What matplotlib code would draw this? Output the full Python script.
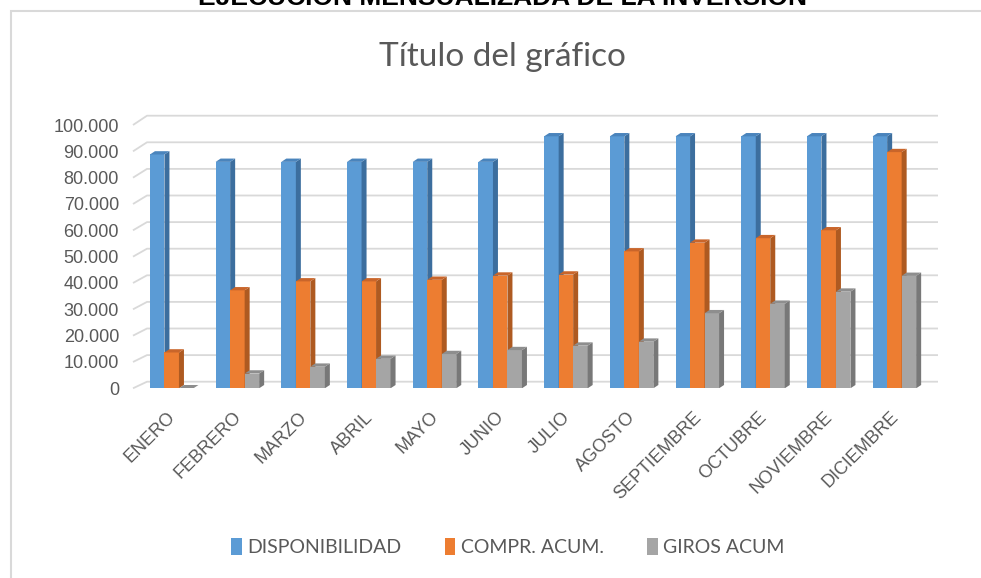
#!/usr/bin/env python3
import numpy as np
import matplotlib
matplotlib.use("Agg")
import matplotlib.pyplot as plt
from matplotlib.patches import Polygon, Patch, Rectangle

# data
meses = ["ENERO", "FEBRERO", "MARZO", "ABRIL", "MAYO", "JUNIO", "JULIO",
         "AGOSTO", "SEPTIEMBRE", "OCTUBRE", "NOVIEMBRE", "DICIEMBRE"]
disponibilidad = [88800, 86000, 86000, 86000, 86000, 86000,
                  95700, 95700, 95700, 95700, 95700, 95700]
compr_acum = [13600, 37200, 40600, 40600, 41200, 42800,
              43200, 52000, 55300, 57000, 60000, 89700]
giros_acum = [0, 5600, 8200, 11200, 13000, 14500,
              16200, 17700, 28500, 32100, 36700, 42700]
series_names = ["DISPONIBILIDAD", "COMPR. ACUM.", "GIROS ACUM"]
y_ticks = list(range(0, 100001, 10000))

front_cols = ["#5B9BD5", "#ED7D31", "#A5A5A5"]
side_cols = ["#3C6E9E", "#AE5A21", "#787878"]
top_cols = ["#4A84BC", "#C9652A", "#8E8E8E"]
grey_txt = "#595959"

W, H = 981, 578
fig = plt.figure(figsize=(W / 100, H / 100), dpi=100)

# axes geometry (pixels)
left_px, right_px = 133, 938
base_px, top_px = 388.3, 115.7
group_px = 65.7
first_center_px = 171.7
y_px_per_unit = 2.633 / 1000

ax = fig.add_axes([left_px / W, (H - base_px) / H,
                   (right_px - left_px) / W, (base_px - top_px) / H])
x0 = -(first_center_px - left_px) / group_px
x1 = x0 + (right_px - left_px) / group_px
ymax = (base_px - top_px) / y_px_per_unit
ax.set_xlim(x0, x1)
ax.set_ylim(0, ymax)
for s in ax.spines.values():
    s.set_visible(False)


def dx(px):
    return px / group_px


def dy(px):
    return px / y_px_per_unit


# back wall gridlines
for v in y_ticks:
    back_py = 381.7 - v * 2.66 / 1000
    yb = (base_px - back_py) / y_px_per_unit
    ax.plot([x0, x0 + dx(14), x1], [v, yb, yb], color="#d9d9d9", lw=1.3,
            clip_on=False, zorder=1, solid_capstyle="butt")

# bars with a bit of depth
bw = dx(14.5)
ddx, ddy = dx(5), dy(3.3)
idx = np.arange(len(meses))
for k, vals in enumerate([disponibilidad, compr_acum, giros_acum]):
    xs = idx + (k - 1) * bw
    ax.bar(xs, vals, width=bw, color=front_cols[k], zorder=3 + k,
           edgecolor="none")
    for xc, v in zip(xs, vals):
        xl, xr = xc - bw / 2, xc + bw / 2
        side = Polygon([(xr, 0), (xr + ddx, ddy), (xr + ddx, v + ddy), (xr, v)],
                       closed=True, facecolor=side_cols[k], edgecolor="none",
                       zorder=3 + k)
        top = Polygon([(xl, v), (xl + ddx, v + ddy), (xr + ddx, v + ddy), (xr, v)],
                      closed=True, facecolor=top_cols[k], edgecolor="none",
                      zorder=3 + k)
        ax.add_patch(side)
        ax.add_patch(top)

ax.set_yticks(y_ticks, [f"{v:,}".replace(",", ".") for v in y_ticks])
ax.tick_params(axis="y", length=0, pad=10, labelsize=13, labelcolor=grey_txt)
for lab in ax.get_yticklabels():
    lab.set_family("Liberation Sans")

ax.set_xticks(idx + 0.02, meses)
ax.tick_params(axis="x", length=0, pad=19, labelsize=13, labelcolor=grey_txt)
for lab in ax.get_xticklabels():
    lab.set_family("Liberation Sans")
    lab.set_rotation(45)
    lab.set_ha("right")
    lab.set_va("center")
    lab.set_rotation_mode("anchor")

# title and cut-off heading
fig.text(502 / W, 1 - 57 / H, "Título del gráfico", ha="center", va="center",
         fontsize=24, color=grey_txt, family="Lato")
fig.text(502.5 / W, 1 - 5 / H, "EJECUCIÓN MENSUALIZADA DE LA INVERSIÓN",
         ha="center", va="baseline", fontsize=19, fontweight="bold",
         color="black", family="Liberation Sans")

# chart frame
fig.add_artist(Rectangle((10.5 / W, -0.05), 1.2, 1 - 10.5 / H + 0.05,
                         transform=fig.transFigure, fill=False,
                         edgecolor="#d9d9d9", lw=1.5))

handles = [Patch(facecolor=c, edgecolor="none") for c in front_cols]
leg = fig.legend(handles, series_names, loc="center", ncol=3,
                 bbox_to_anchor=(508 / W, 1 - 547 / H), frameon=False,
                 handlelength=0.55, handleheight=1.0, handletextpad=0.3,
                 columnspacing=2.2, prop={"family": "Lato", "size": 14})
for t in leg.get_texts():
    t.set_color(grey_txt)

fig.savefig("out.png", dpi=100, facecolor="white")
